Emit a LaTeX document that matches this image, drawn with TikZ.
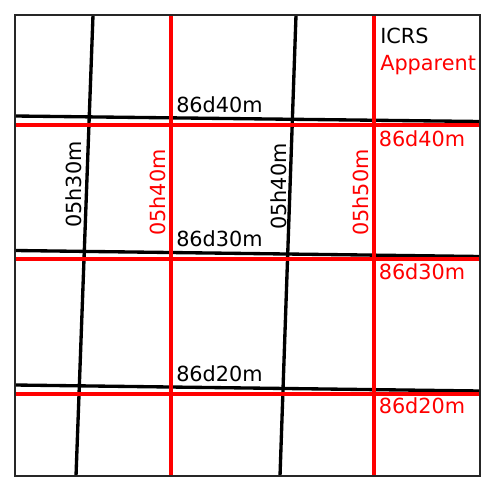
\documentclass[tikz,border=0pt]{standalone}
\usepackage{fontspec}
\setmainfont{DejaVu Sans}
\usetikzlibrary{positioning}
\tikzset{
    marco/.style={
        line width=1.5pt,
        draw=black!85
    },
    icrs/.style={
        line width=2.5pt,
        draw=black
    },
    aparente/.style={
        line width=2.4pt,
        draw=red
    },
    etiqueta/.style={
        inner sep=0pt,
        font=\fontsize{15.6}{18}\selectfont
    }
}

\begin{document}
\begin{tikzpicture}[
    x=0.75pt,
    y=-0.75pt
]

    \useasboundingbox (0,0) rectangle (495,492);

    % Marco
    \coordinate (no) at (15,15);
    \coordinate (se) at (480,476);

    % Rejilla ICRS
    \coordinate (a1) at (93,15);   \coordinate (b1) at (76,476);
    \coordinate (a2) at (296,15);  \coordinate (b2) at (280,476);
    \coordinate (c1) at (15,116);  \coordinate (d1) at (480,121.5);
    \coordinate (c2) at (15,250.5);\coordinate (d2) at (480,256.5);
    \coordinate (c3) at (15,385);  \coordinate (d3) at (480,391);

    \draw[icrs] (a1) -- (b1);
    \draw[icrs] (a2) -- (b2);
    \draw[icrs] (c1) -- (d1);
    \draw[icrs] (c2) -- (d2);
    \draw[icrs] (c3) -- (d3);

    % Rejilla aparente
    \coordinate (e1) at (171,15);  \coordinate (f1) at (171,476);
    \coordinate (e2) at (374,15);  \coordinate (f2) at (374,476);
    \coordinate (g1) at (15,125);  \coordinate (h1) at (480,125);
    \coordinate (g2) at (15,259);  \coordinate (h2) at (480,259);
    \coordinate (g3) at (15,394);  \coordinate (h3) at (480,394);

    \draw[aparente] (e1) -- (f1);
    \draw[aparente] (e2) -- (f2);
    \draw[aparente] (g1) -- (h1);
    \draw[aparente] (g2) -- (h2);
    \draw[aparente] (g3) -- (h3);

    \draw[marco] (no) rectangle (se);

    % Leyenda
    \node[etiqueta, anchor=base west]           (icrs)  at (380,44)  {ICRS};
    \node[etiqueta, anchor=base west, red]      (apar)  at (380,70.5){Apparent};

    % Declinaciones
    \node[etiqueta, anchor=base west]           (dec40) at (176,112)   {86d40m};
    \node[etiqueta, anchor=base west]           (dec30) at (176,246.5) {86d30m};
    \node[etiqueta, anchor=base west]           (dec20) at (176,381.5) {86d20m};
    \node[etiqueta, anchor=base west, red]      (ap40)  at (378.5,146) {86d40m};
    \node[etiqueta, anchor=base west, red]      (ap30)  at (378.5,279.5) {86d30m};
    \node[etiqueta, anchor=base west, red]      (ap20)  at (378.5,413) {86d20m};

    % Ascensiones rectas
    \node[etiqueta, anchor=base west, rotate=90]      (ar30) at (81,228)    {05h30m};
    \node[etiqueta, anchor=base west, rotate=90]      (ar40) at (286,230)   {05h40m};
    \node[etiqueta, anchor=base west, rotate=90, red] (ap5)  at (165.5,236) {05h40m};
    \node[etiqueta, anchor=base west, rotate=90, red] (ap6)  at (368.5,236) {05h50m};

\end{tikzpicture}
\end{document}
